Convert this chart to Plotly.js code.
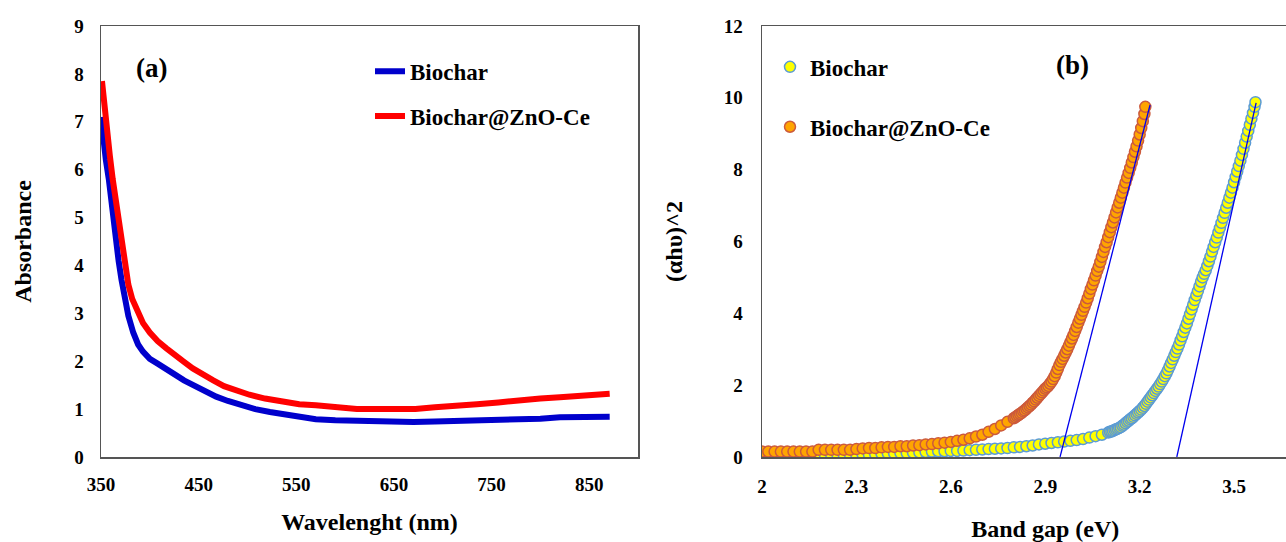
<!DOCTYPE html>
<html>
<head>
<meta charset="utf-8">
<script src="https://cdn.plot.ly/plotly-3.0.1.min.js"></script>
<style>
html,body{margin:0;padding:0;background:#fff;overflow:hidden;}
#chart{width:1340px;height:542px;}
</style>
</head>
<body>
<div id="chart"></div>
<script>
// ---------- Panel (a): absorbance spectra ----------
const wlBiochar = [350,352,355,358,361,364,368,371,374,378,383,388,393,400,408,416,425,435,446,457,468,480,493,508,523,544,570,590,608,630,650,670,692,720,744,760,778,800,820,845,871];
const absBiochar = [7.1,6.6,6.2,5.8,5.2,4.7,4.1,3.7,3.3,2.95,2.6,2.35,2.2,2.05,1.95,1.83,1.73,1.6,1.48,1.37,1.26,1.17,1.08,1.0,0.94,0.86,0.79,0.77,0.76,0.74,0.73,0.73,0.74,0.75,0.76,0.78,0.79,0.8,0.83,0.84,0.84];

const wlZnO = [351,355,359,362,366,369,372,375,378,382,387,393,400,408,417,425,434,444,455,465,476,489,502,518,536,553,570,595,612,629,650,672,692,715,735,757,778,800,820,845,871];
const absZnO = [7.85,7.2,6.3,5.8,5.2,4.75,4.35,3.95,3.6,3.3,3.05,2.8,2.6,2.42,2.27,2.13,2.0,1.85,1.7,1.6,1.48,1.38,1.3,1.22,1.15,1.1,1.08,1.02,1.0,1.0,1.0,1.0,1.04,1.06,1.1,1.14,1.19,1.22,1.25,1.29,1.32];

const wlTicks = [350,450,550,650,750,850];

// ---------- Panel (b): Tauc plot ----------
const egBiochar = [
 2.00,2.02,2.04,2.06,2.08,2.10,2.12,2.14,2.16,2.18,2.20,2.22,2.24,2.26,2.28,2.30,2.32,2.34,2.36,2.38,
 2.40,2.42,2.44,2.46,2.48,2.50,2.52,2.54,2.56,2.58,2.60,2.62,2.64,2.66,2.68,2.70,2.72,2.74,2.76,2.78,
 2.80,2.82,2.84,2.86,2.88,2.90,2.92,2.94,2.96,2.98,3.00,3.02,3.04,3.06,3.08,
 3.100,3.105,3.110,3.115,3.120,3.125,3.130,3.135,3.140,3.145,3.150,3.155,3.160,3.165,3.170,3.175,3.180,3.185,3.190,3.195,
 3.200,3.205,3.210,3.215,3.220,3.225,3.230,3.235,3.240,3.245,3.250,3.255,3.260,3.265,3.270,3.275,3.280,3.285,3.290,3.295,
 3.300,3.305,3.310,3.315,3.320,3.325,3.330,3.335,3.340,3.345,3.350,3.355,3.360,3.365,3.370,3.375,3.380,3.385,3.390,3.395,
 3.400,3.405,3.410,3.415,3.420,3.425,3.430,3.435,3.440,3.445,3.450,3.455,3.460,3.465,3.470,3.475,3.480,3.485,3.490,3.495,
 3.500,3.505,3.510,3.515,3.520,3.525,3.530,3.535,3.540,3.545,3.550,3.555,3.560,3.565,3.568];
const tBiochar = [
 0.05,0.05,0.05,0.05,0.05,0.05,0.05,0.05,0.05,0.05,0.06,0.06,0.06,0.06,0.06,0.06,0.07,0.07,0.08,0.09,
 0.10,0.10,0.11,0.11,0.12,0.13,0.14,0.15,0.16,0.16,0.17,0.17,0.18,0.19,0.20,0.21,0.22,0.23,0.24,0.25,
 0.27,0.28,0.30,0.32,0.35,0.37,0.39,0.41,0.43,0.45,0.47,0.50,0.54,0.58,0.62,
 0.68,0.70,0.71,0.73,0.75,0.77,0.79,0.81,0.83,0.87,0.90,0.94,0.98,1.01,1.05,1.08,1.12,1.16,1.20,1.24,
 1.28,1.32,1.37,1.42,1.48,1.54,1.60,1.66,1.72,1.78,1.84,1.90,1.96,2.03,2.10,2.17,2.25,2.33,2.42,2.52,
 2.62,2.72,2.82,2.92,3.02,3.13,3.25,3.36,3.48,3.60,3.72,3.85,3.98,4.11,4.24,4.37,4.50,4.62,4.75,4.88,
 5.00,5.10,5.20,5.32,5.45,5.58,5.72,5.85,5.98,6.11,6.25,6.38,6.52,6.66,6.80,6.94,7.08,7.22,7.36,7.50,
 7.65,7.80,7.95,8.10,8.25,8.41,8.58,8.75,8.92,9.08,9.25,9.42,9.58,9.75,9.88];

const egZnO = [
 2.00,2.02,2.04,2.06,2.08,2.10,2.12,2.14,2.16,2.18,2.20,2.22,2.24,2.26,2.28,2.30,2.32,2.34,2.36,2.38,
 2.40,2.42,2.44,2.46,2.48,2.50,2.52,2.54,2.56,2.58,2.60,2.62,2.64,2.66,2.68,2.70,2.72,2.74,2.76,2.78,
 2.800,2.805,2.810,2.815,2.820,2.825,2.830,2.835,2.840,2.845,2.850,2.855,2.860,2.865,2.870,2.875,2.880,2.885,2.890,2.895,
 2.900,2.905,2.910,2.915,2.920,2.925,2.930,2.935,2.940,2.945,2.950,2.955,2.960,2.965,2.970,2.975,2.980,2.985,2.990,2.995,
 3.000,3.005,3.010,3.015,3.020,3.025,3.030,3.035,3.040,3.045,3.050,3.055,3.060,3.065,3.070,3.075,3.080,3.085,3.090,3.095,
 3.100,3.105,3.110,3.115,3.120,3.125,3.130,3.135,3.140,3.145,3.150,3.155,3.160,3.165,3.170,3.175,3.180,3.185,3.190,3.195,
 3.200,3.205,3.210,3.215,3.218];
const tZnO = [
 0.15,0.15,0.15,0.15,0.15,0.15,0.15,0.15,0.15,0.20,0.20,0.20,0.20,0.20,0.20,0.22,0.24,0.25,0.25,0.27,
 0.28,0.28,0.30,0.30,0.32,0.33,0.35,0.36,0.38,0.40,0.42,0.45,0.48,0.52,0.57,0.62,0.70,0.78,0.88,0.98,
 1.08,1.11,1.14,1.17,1.20,1.23,1.27,1.30,1.34,1.38,1.42,1.46,1.51,1.55,1.60,1.65,1.70,1.75,1.80,1.85,
 1.90,1.94,1.98,2.04,2.10,2.17,2.25,2.35,2.45,2.56,2.65,2.73,2.82,2.91,3.00,3.10,3.20,3.30,3.40,3.51,
 3.62,3.74,3.85,3.96,4.07,4.18,4.30,4.42,4.55,4.68,4.80,4.92,5.05,5.18,5.30,5.43,5.57,5.71,5.85,5.98,
 6.12,6.26,6.40,6.53,6.67,6.81,6.95,7.08,7.22,7.36,7.50,7.64,7.78,7.91,8.05,8.20,8.35,8.50,8.65,8.81,
 8.98,9.16,9.35,9.55,9.75];

// linear fits (extrapolation lines)
const fitZnOx = [2.947,3.233];
const fitZnOy = [0,9.8];
const fitBiocharx = [3.318,3.570];
const fitBiochary = [0,9.86];

const egTicks = [2,2.3,2.6,2.9,3.2,3.5,3.8];

const W = 1340, H = 542;
const FONT = '"Liberation Serif", "Times New Roman", serif';
const AX = '#555555';

const traces = [
  {x: wlBiochar, y: absBiochar, type:'scatter', mode:'lines', name:'Biochar',
   line:{color:'#0000cc', width:6}, xaxis:'x', yaxis:'y', legend:'legend', legendgroup:'a1'},
  {x: wlZnO, y: absZnO, type:'scatter', mode:'lines', name:'Biochar@ZnO-Ce',
   line:{color:'#ff0000', width:6}, xaxis:'x', yaxis:'y', legend:'legend', legendgroup:'a2'},
  {x: egBiochar, y: tBiochar, type:'scatter', mode:'markers', name:'Biochar',
   marker:{symbol:'circle', size:11, color:'#ffff00', line:{color:'#5b9bd5', width:1.5}},
   xaxis:'x2', yaxis:'y2', legend:'legend2', legendgroup:'b1'},
  {x: egZnO, y: tZnO, type:'scatter', mode:'markers', name:'Biochar@ZnO-Ce',
   marker:{symbol:'circle', size:11, color:'#ffa500', line:{color:'#cc5a3c', width:1.5}},
   xaxis:'x2', yaxis:'y2', legend:'legend2', legendgroup:'b2'},
  {x: fitZnOx, y: fitZnOy, type:'scatter', mode:'lines', showlegend:false,
   line:{color:'#0000ee', width:1.3}, xaxis:'x2', yaxis:'y2'},
  {x: fitBiocharx, y: fitBiochary, type:'scatter', mode:'lines', showlegend:false,
   line:{color:'#0000ee', width:1.3}, xaxis:'x2', yaxis:'y2'}
];

const tickFont = {family: FONT, size: 19, color:'#000', weight:'bold'};
const titleFont = {family: FONT, size: 24, color:'#000', weight:'bold'};

const baseAxis = {
  showgrid:false, zeroline:false, showline:true, linecolor:AX, linewidth:1.5,
  mirror:true, ticks:'', tickfont:tickFont, automargin:false
};

const layout = {
  width: W, height: H,
  margin:{l:0, r:0, t:26, b:85},
  paper_bgcolor:'#fff', plot_bgcolor:'#fff',
  font:{family: FONT, color:'#000'},
  xaxis: Object.assign({}, baseAxis, {
    domain:[101/W, 638/W], range:[350,900], tickvals: wlTicks,
    ticklabelstandoff: 10,
    title:{text:'Wavelenght (nm)', font:titleFont, standoff: 19}
  }),
  yaxis: Object.assign({}, baseAxis, {
    range:[0,9], dtick:1, tick0:0, ticklabelstandoff: 12,
    title:{text:'Absorbance', font:titleFont, standoff: 36}
  }),
  xaxis2: Object.assign({}, baseAxis, {
    anchor:'y2', domain:[762/W, 1328.5/W], range:[2,3.8], tickvals: egTicks,
    ticklabelstandoff: 12,
    title:{text:'Band gap (eV)', font:titleFont, standoff: 32}
  }),
  yaxis2: Object.assign({}, baseAxis, {
    anchor:'x2', range:[0,12], dtick:2, tick0:0, ticklabelstandoff: 14,
    title:{text:'(αhυ)^2', font:titleFont, standoff: 34}
  }),
  showlegend:true,
  legend:{x:370/W, xanchor:'left', y:0.945, yanchor:'top', bgcolor:'rgba(0,0,0,0)',
    font:{family:FONT, size:23, color:'#000', weight:'bold'}, traceorder:'grouped', tracegroupgap:12,
    itemclick:false},
  legend2:{x:770/W, xanchor:'left', y:0.955, yanchor:'top', bgcolor:'rgba(0,0,0,0)',
    font:{family:FONT, size:23, color:'#000', weight:'bold'}, traceorder:'grouped', tracegroupgap:27,
    itemclick:false},
  annotations:[
    {text:'(a)', xref:'x domain', yref:'y domain', x:(151-101)/537, y:(457-68)/431,
     xanchor:'center', yanchor:'middle',
     showarrow:false, font:{family:FONT, size:27, color:'#000', weight:'bold'}},
    {text:'(b)', xref:'x2 domain', yref:'y2 domain', x:(1072-762)/566.5, y:(457-65)/431,
     xanchor:'center', yanchor:'middle',
     showarrow:false, font:{family:FONT, size:27, color:'#000', weight:'bold'}}
  ]
};

Plotly.newPlot('chart', traces, layout, {staticPlot:true, displayModeBar:false});
</script>
</body>
</html>
